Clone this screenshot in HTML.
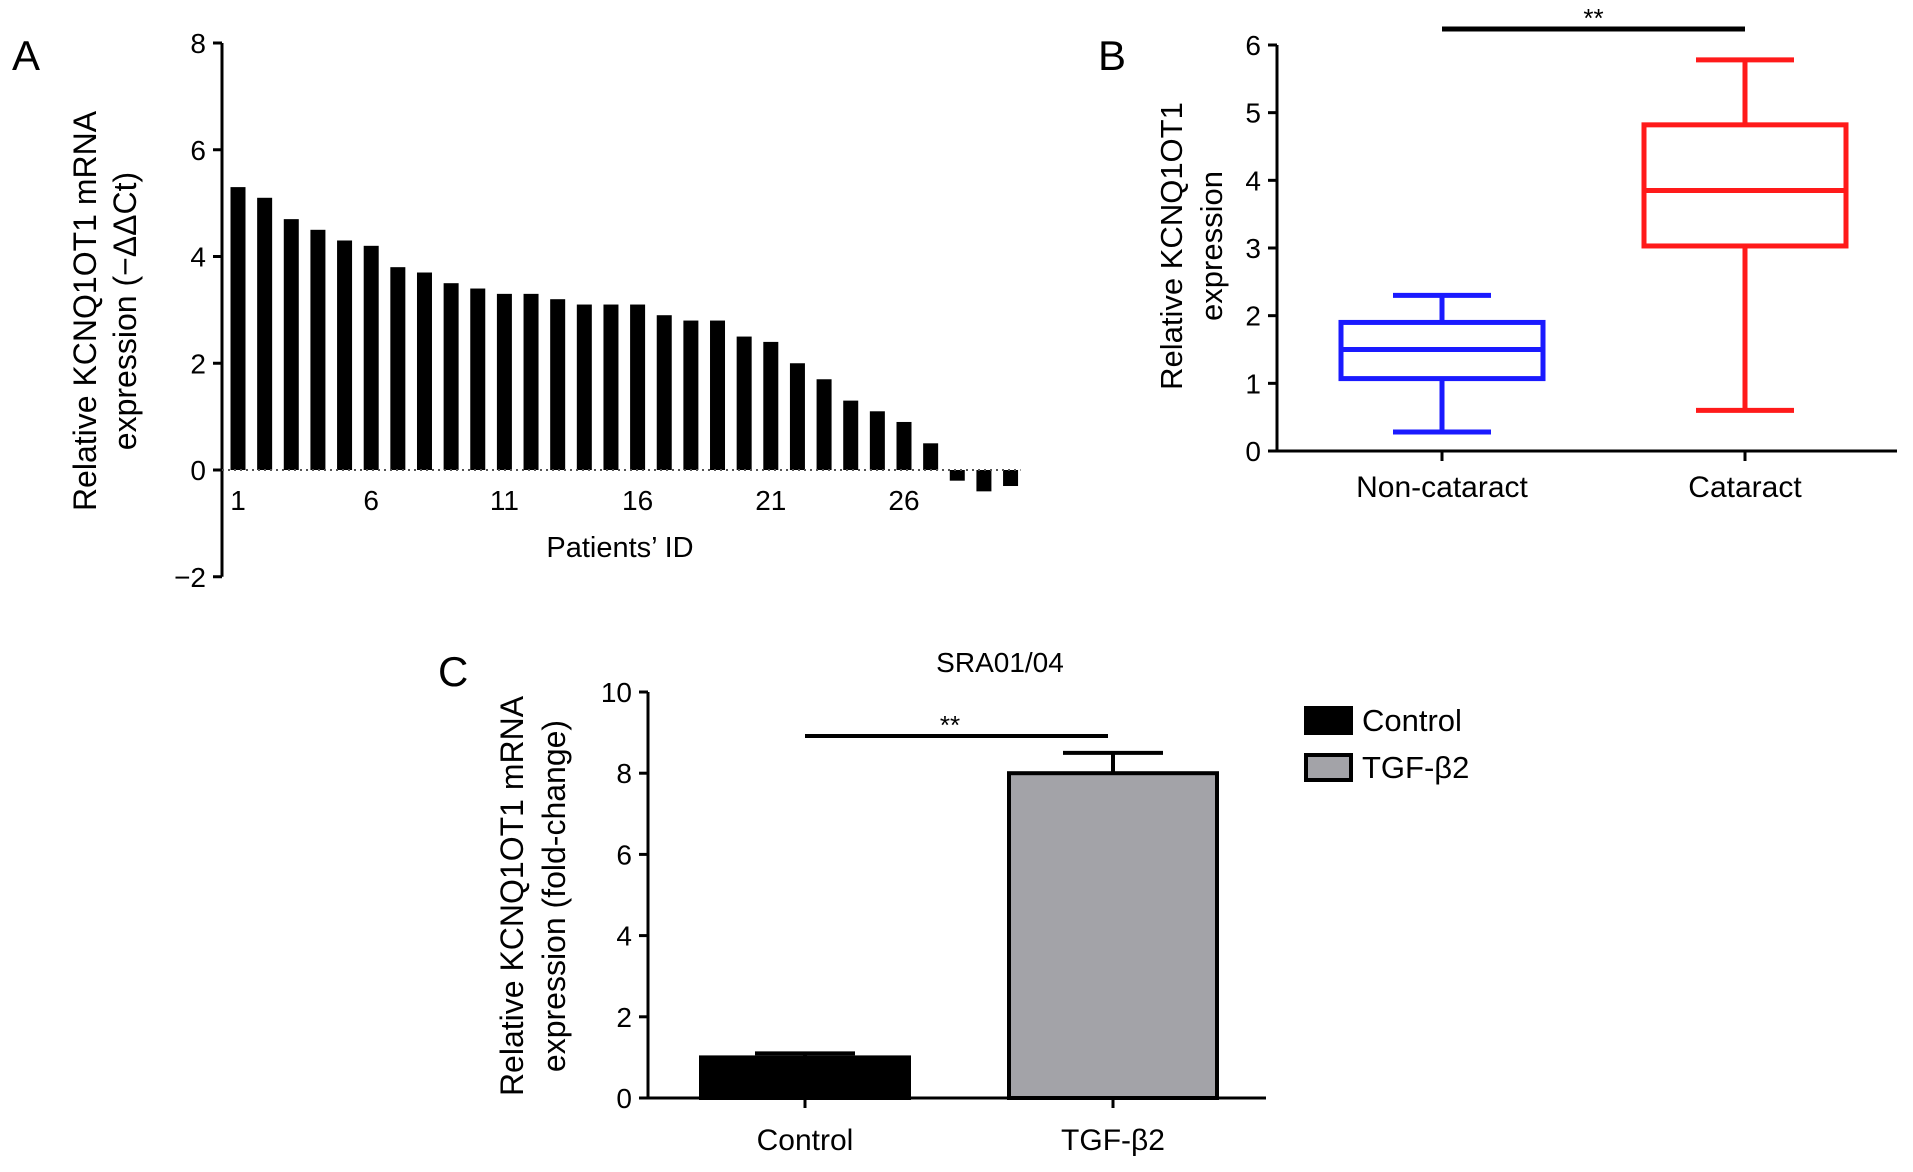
<!DOCTYPE html>
<html><head><meta charset="utf-8"><style>
body{margin:0;background:#fff;}
svg{display:block;font-family:"Liberation Sans",sans-serif;}
</style></head><body>
<svg id="fig" width="1913" height="1172" viewBox="0 0 1913 1172" xmlns="http://www.w3.org/2000/svg">
<rect width="1913" height="1172" fill="#fff"/>
<g id="pa"></g>
<g id="pb"></g>
<g id="pc"></g>
</svg>
<script>
// Panel A data
const aValues=[5.3,5.1,4.7,4.5,4.3,4.2,3.8,3.7,3.5,3.4,3.3,3.3,3.2,3.1,3.1,3.1,2.9,2.8,2.8,2.5,2.4,2.0,1.7,1.3,1.1,0.9,0.5,-0.2,-0.4,-0.3];
const aYTicks=[-2,0,2,4,6,8];
const aXTickLabels=["1","6","11","16","21","26"];
// Panel B data
const bGroups=["Non-cataract","Cataract"];
const bMin=[0.28,0.6];
const bQ1=[1.07,3.03];
const bMedian=[1.5,3.85];
const bQ3=[1.9,4.82];
const bMax=[2.3,5.78];
const bYTicks=[0,1,2,3,4,5,6];
// Panel C data
const cCategories=["Control","TGF-β2"];
const cValues=[1.0,8.0];
const cErrors=[0.1,0.5];
const cYTicks=[0,2,4,6,8,10];

const NS="http://www.w3.org/2000/svg";
function mk(parent,tag,attrs,text){const e=document.createElementNS(NS,tag);for(const k in attrs)e.setAttribute(k,attrs[k]);if(text!==undefined)e.textContent=text;parent.appendChild(e);return e;}

// ---------- Panel A ----------
(function(){
const g=document.getElementById('pa');
const ax=222, y0=470, ppu=(470-43)/8;
const ya=v=>y0-v*ppu;
const xa=i=>238+i*26.64;
let t=mk(g,'text',{x:12,y:70,'font-size':42},'A');

let l=mk(g,'line',{x1:ax,y1:ya(8),x2:ax,y2:ya(-2),stroke:'#000','stroke-width':3});

aYTicks.forEach(v=>{
  const tk=mk(g,'line',{x1:ax-9,y1:ya(v),x2:ax,y2:ya(v),stroke:'#000','stroke-width':3});
  
  const tl=mk(g,'text',{x:ax-16,y:ya(v)+10,'font-size':28,'text-anchor':'end'},v<0?'−'+Math.abs(v):String(v));
  
});
aValues.forEach((v,i)=>{
  const top=Math.min(ya(v),y0), h=Math.abs(ya(v)-y0);
  const b=mk(g,'rect',{x:xa(i)-7.5,y:top,width:15,height:h,fill:'#000'});
  
});
const zl=mk(g,'line',{x1:ax,y1:y0,x2:xa(29)+10,y2:y0,stroke:'#555','stroke-width':2,'stroke-dasharray':'2,4'});

aXTickLabels.forEach(s=>{
  const i=parseInt(s)-1;
  const tl=mk(g,'text',{x:xa(i),y:510,'font-size':28,'text-anchor':'middle'},s);
  
});
t=mk(g,'text',{x:620,y:557,'font-size':29,'text-anchor':'middle'},'Patients’ ID');

t=mk(g,'text',{'font-size':32,'text-anchor':'middle',transform:'translate(96,311) rotate(-90)'},'Relative KCNQ1OT1 mRNA');

t=mk(g,'text',{'font-size':32,'text-anchor':'middle',transform:'translate(136,311) rotate(-90)'},'expression (−ΔΔCt)');

})();

// ---------- Panel B ----------
(function(){
const g=document.getElementById('pb');
const ax=1277, y0=451, ppu=(451-45)/6;
const yb=v=>y0-v*ppu;
const xc=[1442,1745];
const colors=['#1a1aff','#ff1a1a'];
let t=mk(g,'text',{x:1098,y:70,'font-size':42},'B');

let l=mk(g,'line',{x1:ax,y1:yb(6),x2:ax,y2:y0,stroke:'#000','stroke-width':3});

l=mk(g,'line',{x1:ax,y1:y0,x2:1897,y2:y0,stroke:'#000','stroke-width':3});

bYTicks.forEach(v=>{
  const tk=mk(g,'line',{x1:ax-9,y1:yb(v),x2:ax,y2:yb(v),stroke:'#000','stroke-width':3});
  
  const tl=mk(g,'text',{x:ax-16,y:yb(v)+10,'font-size':28,'text-anchor':'end'},String(v));
  
});
bGroups.forEach((name,i)=>{
  const x=xc[i], c=colors[i], hw=101, cw=49;
  const tk=mk(g,'line',{x1:x,y1:y0,x2:x,y2:y0+10,stroke:'#000','stroke-width':3});
  
  const tl=mk(g,'text',{x:x,y:497,'font-size':30,'text-anchor':'middle'},name);
  
  const w=mk(g,'line',{x1:x,y1:yb(bMin[i]),x2:x,y2:yb(bMax[i]),stroke:c,'stroke-width':5});
  
  const c1=mk(g,'line',{x1:x-cw,y1:yb(bMin[i]),x2:x+cw,y2:yb(bMin[i]),stroke:c,'stroke-width':5});
  
  const c2=mk(g,'line',{x1:x-cw,y1:yb(bMax[i]),x2:x+cw,y2:yb(bMax[i]),stroke:c,'stroke-width':5});
  
  const bx=mk(g,'rect',{x:x-hw,y:yb(bQ3[i]),width:2*hw,height:yb(bQ1[i])-yb(bQ3[i]),fill:'#fff',stroke:c,'stroke-width':5});
  
  const md=mk(g,'line',{x1:x-hw,y1:yb(bMedian[i]),x2:x+hw,y2:yb(bMedian[i]),stroke:c,'stroke-width':5});
  
});
l=mk(g,'line',{x1:xc[0],y1:29,x2:xc[1],y2:29,stroke:'#000','stroke-width':5});

t=mk(g,'text',{x:(xc[0]+xc[1])/2,y:27,'font-size':26,'text-anchor':'middle'},'**');

t=mk(g,'text',{'font-size':31,'text-anchor':'middle',transform:'translate(1182,246) rotate(-90)'},'Relative KCNQ1OT1');

t=mk(g,'text',{'font-size':31,'text-anchor':'middle',transform:'translate(1222,246) rotate(-90)'},'expression');

})();

// ---------- Panel C ----------
(function(){
const g=document.getElementById('pc');
const ax=648, y0=1098, ppu=(1098-692)/10;
const yc=v=>y0-v*ppu;
const xc=[805,1113];
const fills=['#000','#a3a3a8'];
const bw=104;
let t=mk(g,'text',{x:438,y:686,'font-size':42},'C');

t=mk(g,'text',{x:1000,y:672,'font-size':28,'text-anchor':'middle'},'SRA01/04');

let l=mk(g,'line',{x1:ax,y1:yc(10),x2:ax,y2:y0,stroke:'#000','stroke-width':3});

cYTicks.forEach(v=>{
  const tk=mk(g,'line',{x1:ax-9,y1:yc(v),x2:ax,y2:yc(v),stroke:'#000','stroke-width':3});
  
  const tl=mk(g,'text',{x:ax-16,y:yc(v)+10,'font-size':28,'text-anchor':'end'},String(v));
  
});
cCategories.forEach((name,i)=>{
  const x=xc[i];
  const e=mk(g,'line',{x1:x,y1:yc(cValues[i]),x2:x,y2:yc(cValues[i]+cErrors[i]),stroke:'#000','stroke-width':4});
  
  const cp=mk(g,'line',{x1:x-50,y1:yc(cValues[i]+cErrors[i]),x2:x+50,y2:yc(cValues[i]+cErrors[i]),stroke:'#000','stroke-width':4});
  
  const b=mk(g,'rect',{x:x-bw,y:yc(cValues[i]),width:2*bw,height:y0-yc(cValues[i]),fill:fills[i],stroke:'#000','stroke-width':4});
  
  const tk=mk(g,'line',{x1:x,y1:y0,x2:x,y2:y0+10,stroke:'#000','stroke-width':3});
  
  const tl=mk(g,'text',{x:x,y:1150,'font-size':30,'text-anchor':'middle'},name);
  
});
l=mk(g,'line',{x1:ax,y1:y0,x2:1266,y2:y0,stroke:'#000','stroke-width':3});

l=mk(g,'line',{x1:xc[0],y1:736,x2:1108,y2:736,stroke:'#000','stroke-width':4});

t=mk(g,'text',{x:950,y:734,'font-size':26,'text-anchor':'middle'},'**');

cCategories.forEach((name,i)=>{
  const y=708+i*47;
  const r=mk(g,'rect',{x:1306,y:y,width:45,height:25,fill:fills[i],stroke:'#000','stroke-width':4});
  
  const tl=mk(g,'text',{x:1362,y:y+23,'font-size':31},name);
  
});
t=mk(g,'text',{'font-size':32,'text-anchor':'middle',transform:'translate(523,896) rotate(-90)'},'Relative KCNQ1OT1 mRNA');

t=mk(g,'text',{'font-size':32,'text-anchor':'middle',transform:'translate(565,896) rotate(-90)'},'expression (fold-change)');

})();
</script>
</body></html>
